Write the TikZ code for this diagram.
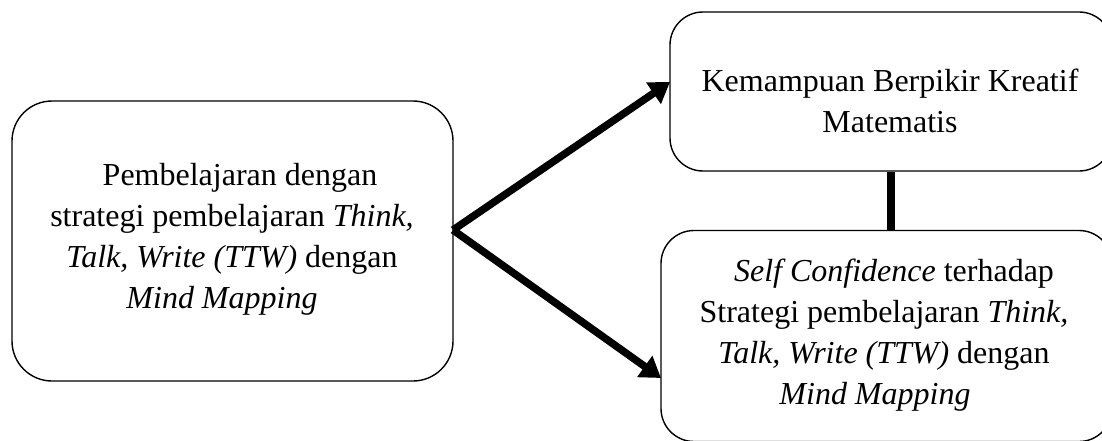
\documentclass[tikz,border=0pt]{standalone}
\usepackage{fontspec}
\setmainfont{Liberation Serif}
\usetikzlibrary{arrows.meta}
\begin{document}
\begin{tikzpicture}[x=1pt,y=-1pt,
  rbox/.style={draw=black,line width=1.4pt,rounded corners=#1,inner sep=0pt,fill=white},
  txt/.style={align=center,inner sep=0pt,font=\fontsize{32}{41}\selectfont},
  bigarrow/.style={line width=7.5pt,-{Triangle[length=20pt 0,width=25pt 0]}},
  shadowed/.style={preaction={draw=black!18,transform canvas={shift={(1.5pt,-2pt)}}}},
  link/.style={line width=8pt}]
\useasboundingbox (0,0) rectangle (1102,441);
\clip (0,0) rectangle (1102,441);
% boxes
\node[rbox=40pt,minimum width=441pt,minimum height=280pt] (left) at (232.5,241) {};
\node[rbox=33pt,minimum width=442pt,minimum height=159pt] (tr) at (891,91.5) {};
\node[rbox=33pt,minimum width=451pt,minimum height=211pt] (br) at (886.5,336) {};
% texts
\node[txt] (lefttxt) at (232,239) {\hspace*{16pt}Pembelajaran dengan\\strategi pembelajaran \textit{Think,}\\\textit{Talk, Write (TTW)} dengan\\\textit{Mind Mapping}\hspace*{20pt}};
\node[txt] (trtxt) at (890,101) {Kemampuan Berpikir Kreatif\\Matematis};
\node[txt] (brtxt) at (884,335) {\hspace*{20pt}\textit{Self Confidence} terhadap\\Strategi pembelajaran \textit{Think,}\\\textit{Talk, Write (TTW)} dengan\\\textit{Mind Mapping}\hspace*{18pt}};
% connectors
\coordinate (src) at (453,230);
\coordinate (t1) at (670,82);
\coordinate (t2) at (661,378);
\draw[bigarrow] (src) -- (t1);
\draw[bigarrow] (src) -- (t2);
\draw[link] (tr.south) -- (tr.south |- br.north);
\end{tikzpicture}
\end{document}
